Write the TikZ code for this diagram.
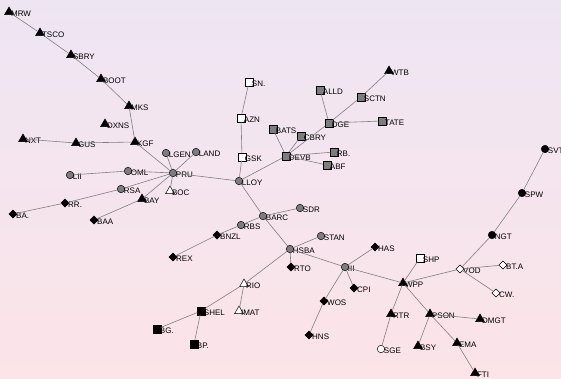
\documentclass[tikz,border=0pt]{standalone}
\usepackage{fontspec}
\setsansfont{Liberation Sans}
\usetikzlibrary{shapes.geometric}
\definecolor{bgtop}{RGB}{238,229,243}
\definecolor{bgbot}{RGB}{252,228,232}
\definecolor{lnk}{RGB}{128,128,128}
\definecolor{mid}{RGB}{125,125,125}

\tikzset{
  lab/.style={font=\sffamily\fontsize{8}{9}\selectfont, inner sep=0pt, xshift=-1pt, yshift=-2pt},
  mk/.style={draw=black, line width=0.5pt, inner sep=0pt, outer sep=0pt},
  btri/.style={mk, regular polygon, regular polygon sides=3, minimum size=10pt, fill=black},
  wtri/.style={btri, fill=white},
  gcirc/.style={mk, circle, minimum size=7.5pt, fill=mid},
  bcirc/.style={gcirc, fill=black},
  wcirc/.style={gcirc, fill=white},
  gsq/.style={mk, rectangle, minimum size=7.5pt, fill=mid},
  bsq/.style={gsq, fill=black},
  wsq/.style={gsq, fill=white},
  bdia/.style={mk, diamond, minimum size=8pt, fill=black},
  wdia/.style={bdia, fill=white},
  link/.style={draw=lnk, line width=0.6pt}
}

\begin{document}
\begin{tikzpicture}[x=1pt, y=-1pt]
        \shade[top color=bgtop, bottom color=bgbot] (0,0) rectangle (561,378);
        \useasboundingbox (0,0) rectangle (561,378);
        % left arm
        \node[btri, label={[lab]right:MRW}] (MRW) at (9,12) {};
        \node[btri, label={[lab]right:TSCO}] (TSCO) at (40,33) {};
        \node[btri, label={[lab]right:SBRY}] (SBRY) at (71,55) {};
        \node[btri, label={[lab]right:BOOT}] (BOOT) at (101,79) {};
        \node[btri, label={[lab]right:MKS}] (MKS) at (129,106) {};
        \node[btri, label={[lab]right:DXNS}] (DXNS) at (105,124) {};
        \node[btri, label={[lab]right:NXT}] (NXT) at (23,139) {};
        \node[btri, label={[lab]right:GUS}] (GUS) at (76,143) {};
        \node[btri, label={[lab]right:KGF}] (KGF) at (135,142) {};
        \node[gcirc, label={[lab]right:LGEN}] (LGEN) at (166,153) {};
        \node[gcirc, label={[lab]right:LAND}] (LAND) at (196,152) {};
        \node[gcirc, label={[lab]right:PRU}] (PRU) at (173,173) {};
        \node[gcirc, label={[lab]right:OML}] (OML) at (128,171) {};
        \node[gcirc, label={[lab]right:LII}] (LII) at (70,175) {};
        \node[gcirc, label={[lab]right:RSA}] (RSA) at (121,189) {};
        \node[wtri, label={[lab]right:BOC}] (BOC) at (170,191) {};
        \node[btri, label={[lab]right:BAY}] (BAY) at (142,199) {};
        \node[bdia, label={[lab]right:RR.}] (RR) at (65,203) {};
        \node[bdia, label={[lab]right:BA.}] (BA) at (13,214) {};
        \node[bdia, label={[lab]right:BAA}] (BAA) at (94,220) {};
        % top middle
        \node[wsq, label={[lab]right:SN.}] (SN) at (249,82) {};
        \node[wsq, label={[lab]right:AZN}] (AZN) at (241,118) {};
        \node[wsq, label={[lab]right:GSK}] (GSK) at (242,157) {};
        \node[gcirc, label={[lab]right:LLOY}] (LLOY) at (239,181) {};
        \node[btri, label={[lab]right:WTB}] (WTB) at (389,71) {};
        \node[gsq, label={[lab]right:ALLD}] (ALLD) at (320,90) {};
        \node[gsq, label={[lab]right:SCTN}] (SCTN) at (361,97) {};
        \node[gsq, label={[lab]right:DGE}] (DGE) at (329,123) {};
        \node[gsq, label={[lab]right:TATE}] (TATE) at (382,121) {};
        \node[gsq, label={[lab]right:BATS}] (BATS) at (273,129) {};
        \node[gsq, label={[lab]right:CBRY}] (CBRY) at (301,136) {};
        \node[gsq, label={[lab]right:DEVB}] (DEVB) at (286,156) {};
        \node[gsq, label={[lab]right:RB.}] (RB) at (334,152) {};
        \node[gsq, label={[lab]right:ABF}] (ABF) at (327,165) {};
        % banks
        \node[gcirc, label={[lab]right:BARC}] (BARC) at (263,216) {};
        \node[gcirc, label={[lab]right:SDR}] (SDR) at (300,208) {};
        \node[gcirc, label={[lab]right:RBS}] (RBS) at (241,225) {};
        \node[bdia, label={[lab]right:BNZL}] (BNZL) at (217,235) {};
        \node[bdia, label={[lab]right:REX}] (REX) at (173,257) {};
        \node[gcirc, label={[lab]right:STAN}] (STAN) at (321,236) {};
        \node[gcirc, label={[lab]right:HSBA}] (HSBA) at (290,249) {};
        \node[bdia, label={[lab]right:RTO}] (RTO) at (291,267) {};
        \node[gcirc, label={[lab]right:III}] (III) at (345,267) {};
        \node[bdia, label={[lab]right:HAS}] (HAS) at (375,247) {};
        \node[bdia, label={[lab]right:CPI}] (CPI) at (354,288) {};
        \node[bdia, label={[lab]right:WOS}] (WOS) at (324,301) {};
        \node[bdia, label={[lab]right:HNS}] (HNS) at (309,335) {};
        % oils
        \node[wtri, label={[lab]right:RIO}] (RIO) at (244,284) {};
        \node[bsq, label={[lab]right:SHEL}] (SHEL) at (201,311) {};
        \node[wtri, label={[lab]right:IMAT}] (IMAT) at (239,311) {};
        \node[bsq, label={[lab]right:BG.}] (BG) at (157,329) {};
        \node[bsq, label={[lab]right:BP.}] (BP) at (194,344) {};
        % right side
        \node[wsq, label={[lab]right:SHP}] (SHP) at (420,258) {};
        \node[btri, label={[lab]right:WPP}] (WPP) at (403,283) {};
        \node[wdia, label={[lab]right:VOD}] (VOD) at (460,269) {};
        \node[wdia, label={[lab]right:BT.A}] (BTA) at (503,265) {};
        \node[wdia, label={[lab]right:CW.}] (CW) at (496,293) {};
        \node[bcirc, label={[lab]right:NGT}] (NGT) at (492,235) {};
        \node[bcirc, label={[lab]right:SPW}] (SPW) at (522,193) {};
        \node[bcirc, label={[lab]right:SVT}] (SVT) at (545,149) {};
        \node[btri, label={[lab]right:RTR}] (RTR) at (391,314) {};
        \node[btri, label={[lab]right:PSON}] (PSON) at (430,314) {};
        \node[btri, label={[lab]right:DMGT}] (DMGT) at (480,319) {};
        \node[wcirc, label={[lab]right:SGE}] (SGE) at (381,349) {};
        \node[btri, label={[lab]right:BSY}] (BSY) at (418,346) {};
        \node[btri, label={[lab]right:EMA}] (EMA) at (457,343) {};
        \node[btri, label={[lab]right:FTI}] (FTI) at (475,373) {};
        \path[link]
        (MRW) edge (TSCO) (TSCO) edge (SBRY) (SBRY) edge (BOOT) (BOOT) edge (MKS)
        (MKS) edge (KGF) (NXT) edge (GUS) (GUS) edge (KGF) (KGF) edge (PRU)
        (LGEN) edge (PRU) (LAND) edge (PRU) (OML) edge (PRU) (LII) edge (OML)
        (RSA) edge (PRU) (RR) edge (RSA) (BA) edge (RR) (BAY) edge (PRU)
        (BAA) edge (BAY) (BOC) edge (PRU) (PRU) edge (LLOY)
        (LLOY) edge (GSK) (GSK) edge (AZN) (AZN) edge (SN)
        (LLOY) edge (DEVB) (DEVB) edge (BATS) (DEVB) edge (CBRY) (DEVB) edge (DGE)
        (DEVB) edge (RB) (DEVB) edge (ABF) (DGE) edge (ALLD) (DGE) edge (SCTN)
        (SCTN) edge (WTB) (DGE) edge (TATE)
        (LLOY) edge (BARC) (BARC) edge (SDR) (BARC) edge (RBS) (RBS) edge (BNZL)
        (BNZL) edge (REX) (BARC) edge (HSBA) (HSBA) edge (STAN) (HSBA) edge (RTO)
        (HSBA) edge (III) (HSBA) edge (RIO) (RIO) edge (SHEL) (RIO) edge (IMAT)
        (SHEL) edge (BG) (SHEL) edge (BP)
        (III) edge (HAS) (III) edge (CPI) (III) edge (WOS) (WOS) edge (HNS)
        (III) edge (WPP) (WPP) edge (SHP) (WPP) edge (VOD) (VOD) edge (BTA)
        (VOD) edge (CW) (VOD) edge (NGT) (NGT) edge (SPW) (SPW) edge (SVT)
        (WPP) edge (RTR) (RTR) edge (SGE) (WPP) edge (PSON) (PSON) edge (DMGT)
        (PSON) edge (BSY) (PSON) edge (EMA) (EMA) edge (FTI);
\end{tikzpicture}
\end{document}
